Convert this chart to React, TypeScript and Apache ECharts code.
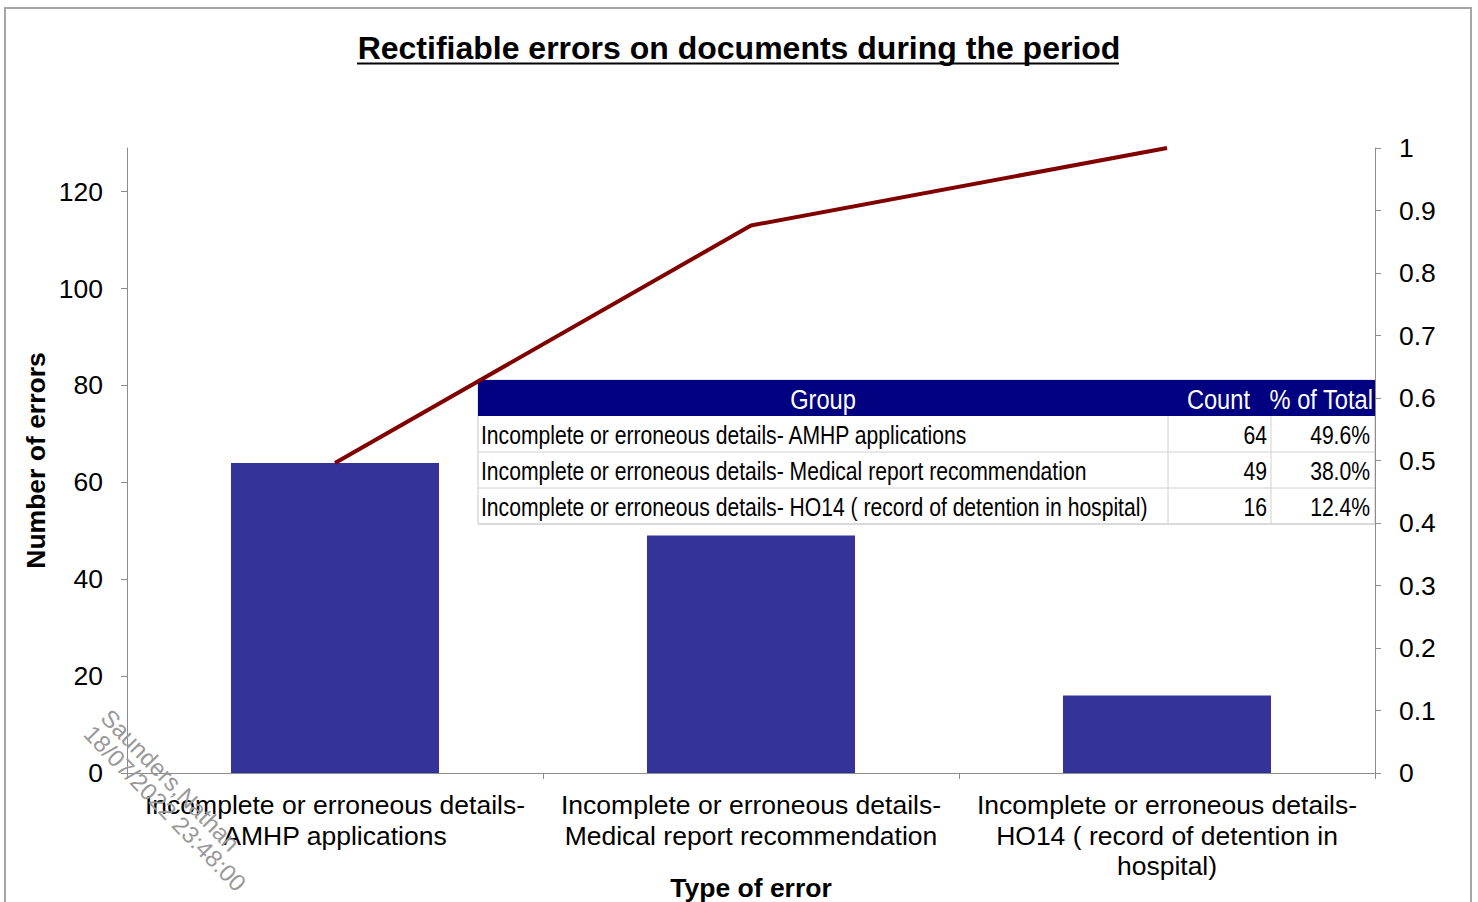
import React, { useEffect, useRef } from "react";
import * as echarts from "echarts";

const categories = [
  "Incomplete or erroneous details- AMHP applications",
  "Incomplete or erroneous details- Medical report recommendation",
  "Incomplete or erroneous details- HO14 ( record of detention in hospital)",
];
const categoryLabels = [
  "Incomplete or erroneous details-\nAMHP applications",
  "Incomplete or erroneous details-\nMedical report recommendation",
  "Incomplete or erroneous details-\nHO14 ( record of detention in\nhospital)",
];
const errorCounts = [64, 49, 16];
const cumulativeShare = [0.496, 0.876, 1.0];
const leftTicks = [0, 20, 40, 60, 80, 100, 120];
const tableHeaders = ["Group", "Count", "% of Total"];
const tableCounts = ["64", "49", "16"];
const tablePercents = ["49.6%", "38.0%", "12.4%"];
const watermarkLines = ["Saunders,Nathan", "18/07/2022 23:48:00"];

const FONT = "'Liberation Sans', Arial, sans-serif";

export default function App() {
  const ref = useRef<HTMLDivElement>(null);
  useEffect(() => {
    if (!ref.current) return;
    const chart = echarts.init(ref.current, null, { renderer: "svg" });

    const tx = 478, tw = 897, c1 = 1168, c2 = 1271;
    const hy = 380, hh = 36, rh = 36;
    const narrow = 0.845;
    const tFont = 25;
    const hFont = 28;
    const tableEls: any[] = [];
    const nRows = categories.length;
    tableEls.push({
      type: "rect",
      shape: { x: tx, y: hy, width: tw, height: hh + rh * nRows },
      style: { fill: "#ffffff", stroke: "#c8c8c8", lineWidth: 1 },
    });
    tableEls.push({
      type: "rect",
      shape: { x: tx, y: hy, width: tw, height: hh },
      style: { fill: "#000080" },
    });
    tableEls.push({
      type: "text", x: (tx + c1) / 2, y: hy + hh / 2 + 1, scaleX: narrow,
      style: { text: tableHeaders[0], fill: "#fff", font: `${hFont}px ${FONT}`, align: "center", verticalAlign: "middle" },
    });
    tableEls.push({
      type: "text", x: c2 - 21, y: hy + hh / 2 + 1, scaleX: narrow,
      style: { text: tableHeaders[1], fill: "#fff", font: `${hFont}px ${FONT}`, align: "right", verticalAlign: "middle" },
    });
    tableEls.push({
      type: "text", x: tx + tw - 2, y: hy + hh / 2 + 1, scaleX: narrow,
      style: { text: tableHeaders[2], fill: "#fff", font: `${hFont}px ${FONT}`, align: "right", verticalAlign: "middle" },
    });
    for (let i = 0; i < nRows; i++) {
      const ry = hy + hh + rh * i;
      tableEls.push({
        type: "line", shape: { x1: tx, y1: ry + rh, x2: tx + tw, y2: ry + rh },
        style: { stroke: "#d0d0d0", lineWidth: 1 },
      });
      tableEls.push({
        type: "text", x: tx + 3, y: ry + rh / 2 + 1, scaleX: narrow,
        style: { text: categories[i], fill: "#000", font: `${tFont}px ${FONT}`, align: "left", verticalAlign: "middle" },
      });
      tableEls.push({
        type: "text", x: c2 - 4, y: ry + rh / 2 + 1, scaleX: narrow,
        style: { text: tableCounts[i], fill: "#000", font: `${tFont}px ${FONT}`, align: "right", verticalAlign: "middle" },
      });
      tableEls.push({
        type: "text", x: tx + tw - 5, y: ry + rh / 2 + 1, scaleX: narrow,
        style: { text: tablePercents[i], fill: "#000", font: `${tFont}px ${FONT}`, align: "right", verticalAlign: "middle" },
      });
    }
    tableEls.push({
      type: "line", shape: { x1: c1, y1: hy + hh, x2: c1, y2: hy + hh + rh * nRows },
      style: { stroke: "#d0d0d0", lineWidth: 1 },
    });
    tableEls.push({
      type: "line", shape: { x1: c2, y1: hy + hh, x2: c2, y2: hy + hh + rh * nRows },
      style: { stroke: "#d0d0d0", lineWidth: 1 },
    });

    const labelFont = 26.5;
    const option: any = {
      animation: false,
      backgroundColor: "#ffffff",
      title: {
        text: "Rectifiable errors on documents during the period",
        left: "center",
        top: 27,
        textStyle: { fontFamily: FONT, fontSize: 32, fontWeight: "bold", color: "#000" },
      },
      grid: { left: 127, right: 103, top: 148, bottom: 129, containLabel: false, outerBoundsMode: "none" },
      xAxis: {
        type: "category",
        data: categories,
        name: "Type of error",
        nameLocation: "middle",
        nameGap: 101,
        nameMoveOverlap: false,
        nameTextStyle: { fontFamily: FONT, fontSize: labelFont, fontWeight: "bold", color: "#000" },
        axisLine: { lineStyle: { color: "#8c8c8c", width: 1 } },
        axisTick: { show: true, alignWithLabel: false, length: 6, inside: false, lineStyle: { color: "#8c8c8c" } },
        axisLabel: {
          interval: 0,
          margin: 17,
          fontFamily: FONT,
          fontSize: labelFont,
          lineHeight: 30.5,
          color: "#000",
          formatter: (_v: string, idx: number) => categoryLabels[idx],
        },
      },
      yAxis: [
        {
          type: "value",
          min: 0,
          max: 129,
          interval: 20,
          name: "Number of errors",
          nameLocation: "middle",
          nameGap: 78,
          nameRotate: 90,
          nameMoveOverlap: false,
          nameTextStyle: { fontFamily: FONT, fontSize: labelFont, fontWeight: "bold", color: "#000" },
          axisLine: { show: true, lineStyle: { color: "#8c8c8c", width: 1 } },
          axisTick: { show: true, length: 6, lineStyle: { color: "#8c8c8c" }, customValues: leftTicks },
          splitLine: { show: false },
          axisLabel: { margin: 24, fontFamily: FONT, fontSize: labelFont, color: "#000", customValues: leftTicks },
        },
        {
          type: "value",
          min: 0,
          max: 1,
          interval: 0.1,
          position: "right",
          axisLine: { show: true, lineStyle: { color: "#8c8c8c", width: 1 } },
          axisTick: { show: true, length: 6, lineStyle: { color: "#8c8c8c" } },
          splitLine: { show: false },
          axisLabel: { margin: 24, fontFamily: FONT, fontSize: labelFont, color: "#000" },
        },
      ],
      series: [
        {
          type: "bar",
          data: errorCounts,
          barWidth: "50%",
          itemStyle: { color: "#333399" },
          yAxisIndex: 0,
        },
        {
          type: "line",
          data: cumulativeShare,
          yAxisIndex: 1,
          symbol: "none",
          lineStyle: { color: "#800000", width: 4 },
          z: 5,
        },
      ],
      graphic: [
        {
          type: "rect",
          shape: { x: 5, y: 8, width: 1466, height: 920 },
          style: { fill: "none", stroke: "#a6a6a6", lineWidth: 2 },
          silent: true,
          z: 100,
        },
        {
          type: "line",
          shape: { x1: 357, y1: 63.5, x2: 1119, y2: 63.5 },
          style: { stroke: "#000", lineWidth: 2 },
          z: 100,
        },
        { type: "group", z: 50, children: tableEls },
        {
          type: "text",
          x: 114, y: 705, rotation: -0.8,
          style: { text: watermarkLines[0], fill: "#999999", font: `24px ${FONT}`, align: "left", verticalAlign: "top" },
          z: 60,
        },
        {
          type: "text",
          x: 97, y: 721, rotation: -0.8,
          style: { text: watermarkLines[1], fill: "#999999", font: `24px ${FONT}`, align: "left", verticalAlign: "top" },
          z: 60,
        },
      ],
    };
    chart.setOption(option);
    return () => chart.dispose();
  }, []);
  return (
    <div
      ref={ref}
      style={{ position: "fixed", left: 0, top: 0, width: 1478, height: 902, background: "#fff" }}
    />
  );
}
